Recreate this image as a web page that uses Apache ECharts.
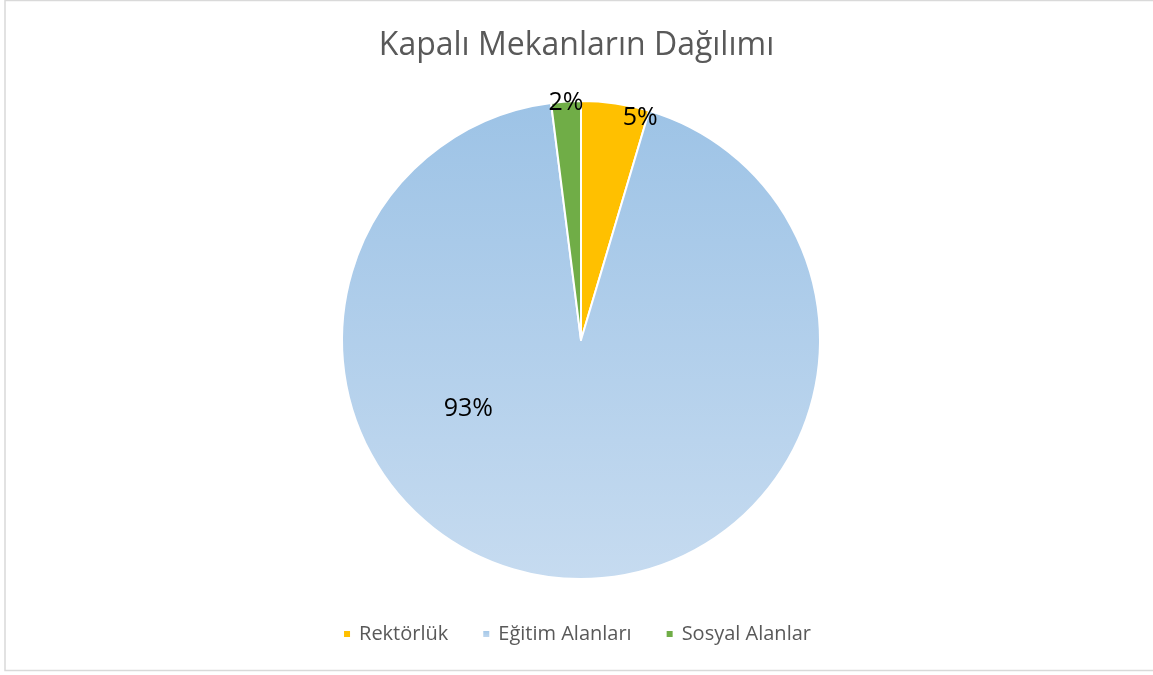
<!DOCTYPE html>
<html>
<head>
<meta charset="utf-8">
<script src="https://cdn.jsdelivr.net/npm/echarts@6/dist/echarts.min.js"></script>
<style>
  html, body { margin: 0; padding: 0; background: #fff; }
  #chart { width: 1153px; height: 675px; }
</style>
</head>
<body>
<div id="chart"></div>
<script>
// veriler
var categories = ["Rektörlük", "Eğitim Alanları", "Sosyal Alanlar"];
var shares = [4.6, 93.4, 2.0];
var sliceColors = ["#FFC000", null, "#70AD47"];

var pieCenter = [581, 340];
var pieRadius = 239;
// etiket konumu: [açı (üstten saat yönünde, derece), merkezden uzaklık]
var labelPolar = [[14.9, 230], [238.6, 132], [-3.6, 238]];

var chart = echarts.init(document.getElementById("chart"));

var blueFill = new echarts.graphic.LinearGradient(0, 0, 0, 1, [
  { offset: 0, color: "#9DC3E6" },
  { offset: 1, color: "#C6DBF0" }
]);

var option = {
  backgroundColor: "#fff",
  textStyle: { fontFamily: "Open Sans" },
  title: {
    text: "Kapalı Mekanların Dağılımı",
    left: "center",
    top: 25,
    textStyle: {
      color: "#595959",
      fontSize: 32,
      fontWeight: "normal",
      fontFamily: "Open Sans"
    }
  },
  legend: {
    data: categories,
    top: 619,
    left: "center",
    icon: "rect",
    itemWidth: 8,
    itemHeight: 8,
    itemGap: 33,
    textStyle: {
      color: "#595959",
      fontSize: 20,
      fontFamily: "Open Sans",
      padding: [0, 0, 0, 3]
    }
  },
  graphic: [{
    type: "rect",
    shape: { x: 5, y: 0.5, width: 1200, height: 670 },
    style: { fill: "none", stroke: "#D9D9D9", lineWidth: 1.5 },
    silent: true
  }],
  series: [{
    type: "pie",
    center: pieCenter,
    radius: [0, pieRadius],
    startAngle: 90,
    clockwise: true,
    animation: false,
    itemStyle: { borderColor: "#fff", borderWidth: 2 },
    label: {
      show: true,
      position: "inside",
      color: "#000",
      fontSize: 25,
      fontFamily: "Open Sans",
      formatter: function (p) { return Math.round(p.percent) + "%"; }
    },
    labelLine: { show: false },
    labelLayout: function (p) {
      var lp = labelPolar[p.dataIndex];
      var a = lp[0] * Math.PI / 180;
      return {
        x: pieCenter[0] + lp[1] * Math.sin(a),
        y: pieCenter[1] - lp[1] * Math.cos(a),
        align: "center",
        verticalAlign: "middle"
      };
    },
    emphasis: { disabled: true },
    data: categories.map(function (name, i) {
      return {
        name: name,
        value: shares[i],
        itemStyle: { color: sliceColors[i] || blueFill }
      };
    })
  }]
};

chart.setOption(option);
</script>
</body>
</html>
